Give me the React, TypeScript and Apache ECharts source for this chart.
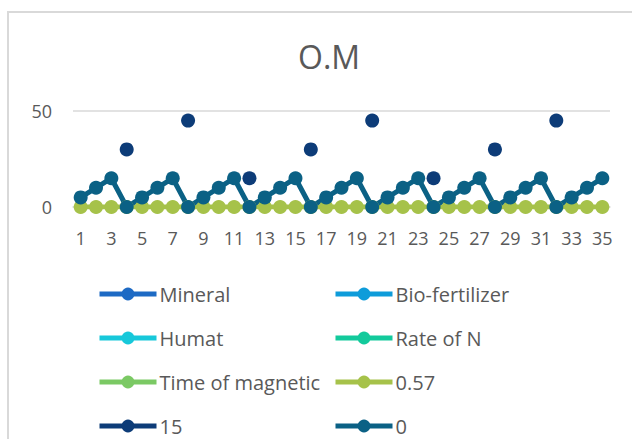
import React, { useEffect, useRef } from "react";
import * as echarts from "echarts";

const categories = [
  "1", "2", "3", "4", "5", "6", "7", "8", "9", "10", "11", "12", "13", "14", "15", "16", "17", "18",
  "19", "20", "21", "22", "23", "24", "25", "26", "27", "28", "29", "30", "31", "32", "33", "34", "35",
];

const mineral: (number | null)[] = [];
const bioFertilizer: (number | null)[] = [];
const humat: (number | null)[] = [];
const rateOfN: (number | null)[] = [];
const timeOfMagnetic: (number | null)[] = [];
const s057 = [
  0, 0, 0, 0, 0, 0, 0, 0, 0, 0, 0, 0, 0, 0, 0, 0, 0, 0, 0, 0, 0, 0, 0, 0, 0, 0, 0, 0, 0, 0, 0, 0, 0, 0, 0,
];
const s15 = [
  null, null, null, 30, null, null, null, 45, null, null, null, 15, null, null, null, 30, null, null,
  null, 45, null, null, null, 15, null, null, null, 30, null, null, null, 45, null, null, null,
];
const s0 = [
  5, 10, 15, 0, 5, 10, 15, 0, 5, 10, 15, 0, 5, 10, 15, 0, 5, 10, 15, 0, 5, 10, 15, 0, 5, 10, 15, 0,
  5, 10, 15, 0, 5, 10, 15,
];

const seriesDefs = [
  { name: "Mineral", data: mineral, color: "#1D6AC4" },
  { name: "Bio-fertilizer", data: bioFertilizer, color: "#0E9CDA" },
  { name: "Humat", data: humat, color: "#17C8DA" },
  { name: "Rate of N", data: rateOfN, color: "#13CA9C" },
  { name: "Time of magnetic", data: timeOfMagnetic, color: "#7BC964" },
  { name: "0.57", data: s057, color: "#A6C24A" },
  { name: "15", data: s15, color: "#0D3C78" },
  { name: "0", data: s0, color: "#0B6185" },
];

// legend placement: [column, row]
const legendCols = [97, 333];
const legendRows = [292, 336, 380, 424];
const legendGrid = [
  [0, 0], [1, 0], [0, 1], [1, 1], [0, 2], [1, 2], [0, 3], [1, 3],
];

const FONT = "'Open Sans', sans-serif";
const GRAY = "#595959";

export default function App() {
  const ref = useRef<HTMLDivElement>(null);
  useEffect(() => {
    if (!ref.current) return;
    const chart = echarts.init(ref.current, null, { renderer: "svg" });
    chart.setOption({
      animation: false,
      backgroundColor: "#ffffff",
      title: {
        text: "O.M",
        left: 293,
        top: 35,
        textStyle: { color: GRAY, fontSize: 32, fontWeight: "normal", fontFamily: FONT },
      },
      graphic: [
        {
          type: "rect",
          shape: { x: 8, y: 12, width: 700, height: 500 },
          style: { fill: "none", stroke: "#D9D9D9", lineWidth: 2 },
          silent: true,
        },
      ],
      legend: seriesDefs.map((s, i) => ({
        orient: "horizontal",
        left: legendCols[legendGrid[i][0]],
        top: legendRows[legendGrid[i][1]] - 8,
        padding: 0,
        itemWidth: 57,
        itemHeight: 16,
        lineStyle: { width: 5 },
        textStyle: { color: GRAY, fontSize: 20, fontFamily: FONT, lineHeight: 16, padding: [0, 0, 0, -2] },
        data: [s.name],
      })),
      grid: { left: 73, right: 22, top: 111, bottom: 232, containLabel: false },
      xAxis: {
        type: "category",
        data: categories,
        boundaryGap: true,
        axisLine: { show: true, lineStyle: { color: "#D9D9D9", width: 1.5 } },
        axisTick: { show: false },
        axisLabel: { interval: 1, color: GRAY, fontSize: 18, fontFamily: FONT, margin: 22 },
      },
      yAxis: {
        type: "value",
        min: 0,
        max: 50,
        interval: 50,
        axisLine: { show: false },
        axisTick: { show: false },
        splitLine: { lineStyle: { color: "#D9D9D9", width: 1.5 } },
        axisLabel: { color: GRAY, fontSize: 18, fontFamily: FONT, margin: 21 },
      },
      series: seriesDefs.map((s) => ({
        name: s.name,
        type: "line",
        data: s.data,
        connectNulls: false,
        symbol: "circle",
        symbolSize: 14,
        showAllSymbol: true,
        itemStyle: { color: s.color },
        lineStyle: { color: s.color, width: 5 },
      })),
    });
    return () => chart.dispose();
  }, []);
  return (
    <div
      ref={ref}
      style={{ position: "absolute", left: 0, top: 0, width: 632, height: 439 }}
    />
  );
}
